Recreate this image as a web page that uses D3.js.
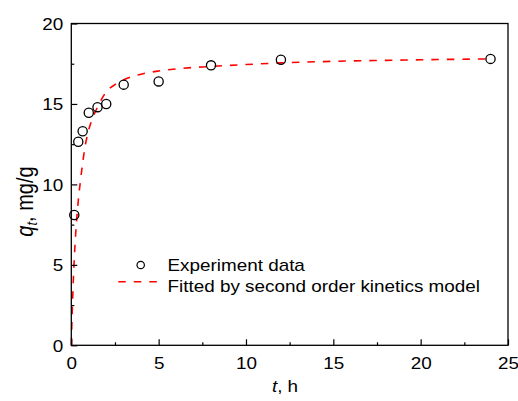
<!DOCTYPE html>
<html>
<head>
<meta charset="utf-8">
<script src="https://cdn.jsdelivr.net/npm/d3@7/dist/d3.min.js"></script>
<style>
  html, body { margin: 0; padding: 0; background: #fff; }
  svg { display: block; }
  text { font-family: "Liberation Sans", Arial, Helvetica, sans-serif; fill: #000; }
</style>
</head>
<body>
<svg id="chart" width="518" height="401"></svg>
<script>
// Experimental uptake q_t (mg/g) versus contact time t (h)
const expTime = [0.17, 0.4, 0.65, 1, 1.5, 2, 3, 5, 8, 12, 24];
const expQ    = [8.1, 12.65, 13.3, 14.45, 14.8, 15.0, 16.2, 16.4, 17.4, 17.75, 17.8];

// Pseudo-second-order fitted curve, sampled along t
const fitTime = [0, 0.05, 0.1, 0.15, 0.2, 0.3, 0.4, 0.5, 0.6, 0.75, 1, 1.25, 1.5, 2, 2.5, 3, 4, 5, 6, 8, 10, 12, 15, 18, 21, 24];
const fitQ    = [0, 2.0, 3.6, 4.9, 6.0, 7.7, 9.0, 10.0, 10.9, 12.1, 13.4, 14.2, 14.8, 15.75, 16.2, 16.5, 16.85, 17.05, 17.18, 17.33, 17.45, 17.55, 17.65, 17.71, 17.76, 17.8];

const xMajorTicks = [0, 5, 10, 15, 20, 25];
const xMinorTicks = [2.5, 7.5, 12.5, 17.5, 22.5];
const yMajorTicks = [0, 5, 10, 15, 20];
const yMinorTicks = [2.5, 7.5, 12.5, 17.5];

const legendLabels = ["Experiment data", "Fitted by second order kinetics model"];

const svg = d3.select("#chart");
const plotL = 71.3, plotR = 508, plotT = 23.5, plotB = 345.3;
const sx = 1.18;          // horizontal glyph stretch
const fs = 16;

const x = d3.scaleLinear().domain([0, 25]).range([plotL, plotR]);
const y = d3.scaleLinear().domain([0, 20]).range([plotB, plotT]);

// fitted curve
const line = d3.line()
  .x(d => x(d[0])).y(d => y(d[1]))
  .curve(d3.curveMonotoneX);
svg.append("path")
  .datum(fitTime.map((t, i) => [t, fitQ[i]]))
  .attr("d", line)
  .attr("fill", "none")
  .attr("stroke", "#ff0000")
  .attr("stroke-width", 1.6)
  .attr("stroke-dasharray", "7.5,8");

// experimental points
svg.append("g").selectAll("circle")
  .data(expTime.map((t, i) => [t, expQ[i]]))
  .join("circle")
  .attr("cx", d => x(d[0]))
  .attr("cy", d => y(d[1]))
  .attr("r", 4.6)
  .attr("fill", "none")
  .attr("stroke", "#000")
  .attr("stroke-width", 1.3);

// bottom axis: major + minor inward ticks
const gx = svg.append("g").attr("transform", `translate(0,${plotB})`)
  .call(d3.axisBottom(x).tickValues(xMajorTicks).tickSizeInner(-6).tickSizeOuter(0).tickPadding(12.5).tickFormat(d3.format("d")));
const gxm = svg.append("g").attr("transform", `translate(0,${plotB})`)
  .call(d3.axisBottom(x).tickValues(xMinorTicks).tickSizeInner(-3).tickSizeOuter(0).tickFormat(""));

// left axis: major + minor inward ticks
const gy = svg.append("g").attr("transform", `translate(${plotL},0)`)
  .call(d3.axisLeft(y).tickValues(yMajorTicks).tickSizeInner(-6).tickSizeOuter(0).tickPadding(6.8).tickFormat(d3.format("d")));
const gym = svg.append("g").attr("transform", `translate(${plotL},0)`)
  .call(d3.axisLeft(y).tickValues(yMinorTicks).tickSizeInner(-3).tickSizeOuter(0).tickFormat(""));

[gx, gxm, gy, gym].forEach(g => {
  g.select(".domain").remove();
  g.selectAll(".tick line").attr("stroke", "#000").attr("stroke-width", 1.2);
});
gx.selectAll(".tick text")
  .attr("font-size", fs)
  .attr("font-family", "Liberation Sans, Arial, sans-serif")
  .attr("transform", `scale(${sx},1)`);
gy.selectAll(".tick text")
  .attr("font-size", fs)
  .attr("dy", "0.36em")
  .attr("font-family", "Liberation Sans, Arial, sans-serif")
  .attr("transform", `scale(${sx},1)`);

// frame
svg.append("rect")
  .attr("x", plotL).attr("y", plotT)
  .attr("width", plotR - plotL).attr("height", plotB - plotT)
  .attr("fill", "none").attr("stroke", "#000").attr("stroke-width", 1.3);

// axis titles
const xt = svg.append("text")
  .attr("transform", `translate(285,391.5) scale(${sx},1)`)
  .attr("text-anchor", "middle")
  .attr("font-size", fs);
xt.append("tspan").attr("font-style", "italic").text("t");
xt.append("tspan").text(", h");

const yt = svg.append("text")
  .attr("transform", `translate(32.5,201.5) scale(${sx},1) rotate(-90)`)
  .attr("text-anchor", "middle")
  .attr("font-size", 20);
yt.append("tspan").attr("font-style", "italic").text("q");
yt.append("tspan").attr("font-style", "italic").attr("font-size", 13).attr("dy", 4).text("t");
yt.append("tspan").attr("dy", -4).text(", mg/g");

// legend
const lg = svg.append("g");
lg.append("circle")
  .attr("cx", 140.7).attr("cy", 265)
  .attr("r", 3.7)
  .attr("fill", "none").attr("stroke", "#000").attr("stroke-width", 1.2);
lg.append("line")
  .attr("x1", 118.3).attr("x2", 158.3)
  .attr("y1", 281.7).attr("y2", 281.7)
  .attr("stroke", "#ff0000").attr("stroke-width", 1.6)
  .attr("stroke-dasharray", "7.5,8");
legendLabels.forEach((lab, i) => {
  lg.append("text")
    .attr("transform", `translate(167.5,${270.7 + i * 21}) scale(${sx},1)`)
    .attr("font-size", fs)
    .text(lab);
});
</script>
</body>
</html>
